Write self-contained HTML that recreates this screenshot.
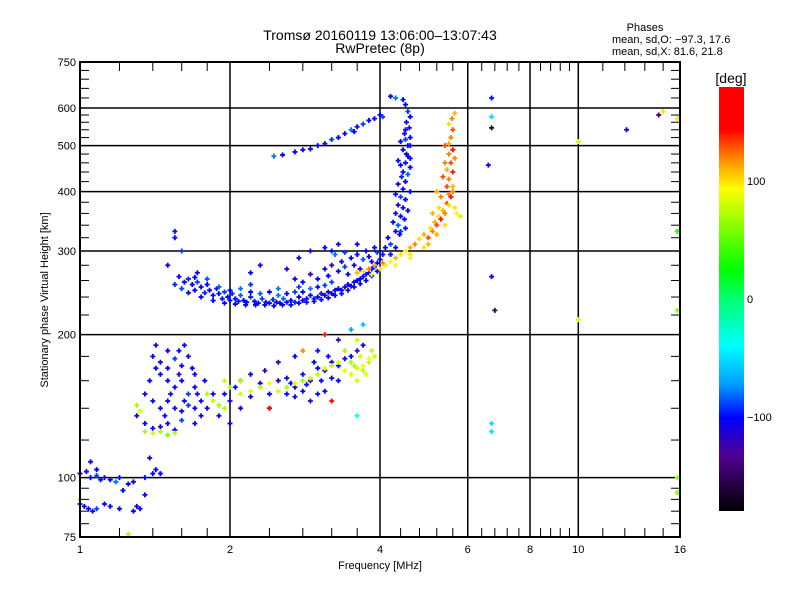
<!DOCTYPE html>
<html><head><meta charset="utf-8"><style>
body{margin:0;background:#fff;}
svg text{font-family:"Liberation Sans",sans-serif;fill:#000;}
</style></head><body>
<svg id="chart" width="800" height="600" xmlns="http://www.w3.org/2000/svg">
<rect width="800" height="600" fill="#fff"/>
<text x="380" y="40" font-size="14" text-anchor="middle">Tromsø 20160119 13:06:00–13:07:43</text>
<text x="380" y="53" font-size="14" text-anchor="middle">RwPretec (8p)</text>
<text x="645" y="31" font-size="11" text-anchor="middle">Phases</text>
<text x="612" y="43" font-size="11">mean, sd,O: −97.3, 17.6</text>
<text x="612" y="55" font-size="11">mean, sd,X:  81.6, 21.8</text>
<g id="grid"></g>
<g id="points"></g>
<g id="axes"></g>
<text x="380" y="569" font-size="11" text-anchor="middle">Frequency [MHz]</text>
<text transform="translate(48,300) rotate(-90)" font-size="11" text-anchor="middle">Stationary phase Virtual Height [km]</text>
<defs><linearGradient id="cb" x1="0" y1="0" x2="0" y2="1">
<stop offset="0" stop-color="#ff0000"/><stop offset="0.1" stop-color="#ff0000"/><stop offset="0.17" stop-color="#ff8a00"/><stop offset="0.24" stop-color="#ffff00"/><stop offset="0.43" stop-color="#00ff00"/><stop offset="0.5" stop-color="#00ff70"/><stop offset="0.61" stop-color="#00ffff"/><stop offset="0.7" stop-color="#00a0ff"/><stop offset="0.78" stop-color="#0000ff"/><stop offset="0.87" stop-color="#500090"/><stop offset="1" stop-color="#000000"/>
</linearGradient></defs>
<rect x="719" y="87" width="25" height="424" fill="url(#cb)"/>
<text x="731" y="83" font-size="14" text-anchor="middle">[deg]</text>
<g id="cbticks"></g>
</svg>
<script>
const NS="http://www.w3.org/2000/svg";
const xTicks=[1,2,4,6,8,10,16];
const xGrid=[2,4,6,8,10];
const yTicks=[75,100,200,300,400,500,600,750];
const yGrid=[100,200,300,400,500,600];
const cbTicks=[100,0,-100];
const oBand=[[1.55,255,-95],[1.58,265,-100],[1.6,250,-90],[1.62,258,-100],[1.65,262,-95],[1.68,255,-105],[1.7,248,-100],[1.72,258,-90],[1.75,252,-100],[1.78,245,-95],[1.8,255,-100],[1.82,248,-110],[1.85,242,-100],[1.88,250,-95],[1.9,244,-100],[1.93,238,-100],[1.95,246,-90],[1.98,240,-100],[2.0,236,-100],[2.02,244,-95],[2.05,238,-100],[2.08,235,-100],[2.1,242,-85],[2.13,236,-100],[2.16,234,-100],[2.2,240,-95],[2.24,235,-100],[2.28,233,-100],[2.32,238,-90],[2.36,234,-100],[2.4,233,-100],[2.44,237,-95],[2.48,234,-100],[2.52,233,-100],[2.56,238,-85],[2.6,234,-100],[2.65,236,-100],[2.7,234,-95],[2.75,240,-100],[2.8,236,-110],[2.85,238,-100],[2.9,242,-100],[2.95,238,-95],[3.0,240,-100],[3.05,244,-110],[3.1,242,-100],[3.15,246,-100],[3.2,244,-120],[3.25,248,-100],[3.3,250,-110],[3.35,248,-100],[3.4,252,-120],[3.45,255,-100],[3.5,253,-110],[3.55,258,-100],[3.6,260,-100],[3.65,262,-110],[3.7,265,-100],[3.75,268,-95],[3.8,270,-100],[3.85,275,-100],[3.9,278,-95],[3.95,283,-100],[4.0,288,-100],[4.05,295,-100],[1.9,252,-85],[2.0,248,-100],[2.1,250,-80],[2.2,246,-100],[2.3,244,-85],[2.4,246,-100],[2.5,242,-80],[2.6,244,-100],[2.7,246,-90],[2.8,246,-100],[2.9,250,-80],[3.0,252,-100],[3.1,254,-90],[1.7,264,-100],[1.8,262,-85],[1.75,240,-100],[1.85,236,-100],[1.95,233,-100],[2.05,232,-100],[2.15,231,-100],[2.25,231,-100],[2.35,231,-100],[2.45,230,-100],[2.55,231,-110],[2.65,231,-100],[2.75,233,-100],[2.85,234,-110],[2.95,235,-100],[3.05,237,-100],[3.15,239,-110],[3.25,242,-100],[3.35,244,-100],[3.45,248,-110],[3.55,252,-100],[3.65,256,-100],[3.75,260,-100],[3.85,266,-100],[3.95,272,-100],[1.65,245,-100],[1.72,270,-100],[2.2,255,-90],[2.5,250,-80],[2.75,252,-90],[3.2,258,-90]];
const oUpperBand=[[2.7,262,-110],[2.8,258,-100],[2.9,268,-120],[3.0,262,-100],[3.1,275,-110],[3.15,266,-100],[3.2,280,-120],[3.3,272,-100],[3.35,285,-110],[3.4,278,-90],[3.5,290,-100],[3.55,280,-110],[3.6,295,-100],[3.7,288,-85],[3.75,300,-100],[3.8,292,-110],[3.9,305,-100],[3.95,298,-90],[2.75,290,-100],[2.9,300,-110],[3.3,310,-100],[3.4,298,-90],[3.1,305,-100],[3.45,268,-100],[3.65,275,-110],[3.85,285,-100],[3.25,295,-80],[3.6,310,-100]];
const oColumn=[[4.1,305,-100],[4.2,310,-90],[4.15,320,-100],[4.3,330,-110],[4.25,345,-100],[4.35,340,-85],[4.3,360,-100],[4.4,355,-100],[4.35,375,-110],[4.45,370,-100],[4.4,390,-90],[4.5,385,-100],[4.45,405,-100],[4.35,415,-110],[4.5,420,-100],[4.45,440,-100],[4.55,435,-85],[4.4,455,-100],[4.5,460,-100],[4.55,475,-110],[4.45,490,-100],[4.55,500,-100],[4.5,515,-90],[4.6,520,-100],[4.5,540,-100],[4.58,545,-110],[4.52,560,-100],[4.6,575,-100],[4.55,590,-90],[4.5,610,-100],[4.45,625,-100],[4.6,500,-100],[4.4,330,-90],[4.2,295,-100],[4.6,470,-100],[4.6,400,-100],[4.3,305,-110],[4.38,325,-100],[4.48,350,-100],[4.42,430,-95],[4.52,480,-100],[4.4,510,-100],[4.5,335,-100],[4.55,365,-100],[4.3,395,-100],[4.6,450,-100],[4.35,465,-100],[4.48,530,-100]];
const oFaint=[[2.45,475,-80],[2.55,478,-100],[2.7,485,-110],[2.8,490,-100],[2.9,492,-110],[3.0,500,-100],[3.1,505,-100],[3.2,515,-90],[3.3,520,-100],[3.4,530,-100],[3.5,540,-80],[3.55,535,-100],[3.6,548,-100],[3.7,555,-90],[3.8,565,-100],[3.9,570,-100],[4.0,580,-100],[4.05,575,-90],[4.3,630,-80],[4.2,635,-100],[1.55,320,-100],[1.55,330,-110],[1.5,280,-100],[1.6,300,-90],[2.3,280,-100],[2.6,275,-110],[3.2,300,-100],[2.2,270,-100]];
const xTrace=[[3.6,270,110],[3.7,272,100],[3.8,275,120],[3.85,268,90],[3.9,280,110],[4.0,275,100],[4.05,283,120],[4.1,280,100],[4.2,285,90],[4.3,290,110],[4.4,295,100],[4.5,300,95],[4.6,305,110],[4.7,310,120],[4.8,318,100],[4.9,325,110],[5.0,320,130],[5.05,335,100],[5.1,330,120],[5.15,345,110],[5.2,340,130],[5.25,355,100],[5.3,350,140],[5.35,365,110],[5.4,360,120],[5.45,378,130],[5.5,375,100],[5.5,395,120],[5.55,390,140],[5.6,410,110],[5.45,410,130],[5.5,425,120],[5.6,440,140],[5.45,445,110],[5.55,460,130],[5.5,480,120],[5.6,490,140],[5.5,505,110],[5.55,520,120],[5.6,540,130],[5.5,555,100],[5.58,570,120],[5.65,585,110],[5.7,360,90],[5.8,355,80],[5.65,370,100],[5.3,390,120],[5.2,400,110],[5.35,430,130],[5.4,460,120],[5.25,370,100],[5.1,360,110],[4.3,280,90],[4.6,295,100],[5.0,310,110],[5.4,340,100],[4.9,305,100],[5.2,325,110],[5.6,400,120],[5.4,500,130],[5.65,470,120],[4.6,290,90]];
const eBlue=[[1.4,180,-100],[1.45,175,-110],[1.5,185,-100],[1.55,178,-90],[1.6,172,-100],[1.65,180,-110],[1.7,165,-100],[1.45,165,-100],[1.5,160,-110],[1.55,155,-100],[1.6,160,-100],[1.65,150,-90],[1.7,155,-100],[1.35,150,-110],[1.4,145,-100],[1.45,140,-100],[1.5,145,-110],[1.55,140,-100],[1.6,138,-100],[1.65,142,-90],[1.7,140,-100],[1.75,145,-100],[1.3,135,-110],[1.35,130,-100],[1.4,127,-100],[1.45,128,-110],[1.5,130,-100],[1.55,126,-100],[1.6,132,-90],[1.7,130,-100],[1.75,135,-110],[1.8,140,-100],[1.85,150,-100],[1.5,170,-100],[1.62,190,-100],[1.42,190,-110],[1.38,160,-100],[1.58,165,-120],[1.68,170,-100],[1.78,160,-100],[1.95,150,-100],[2.0,145,-110],[2.05,155,-100],[2.1,160,-120],[2.2,165,-100],[2.3,158,-110],[2.4,150,-100],[2.5,160,-120],[2.6,162,-100],[2.7,155,-110],[2.8,165,-100],[2.9,160,-120],[3.0,170,-100],[3.1,168,-110],[3.2,175,-120],[3.3,172,-100],[3.4,178,-110],[3.5,180,-100],[3.6,185,-120],[3.7,190,-100],[2.6,150,-100],[2.7,148,-110],[2.8,152,-100],[2.9,145,-120],[3.0,150,-100],[3.1,152,-110],[3.3,160,-100],[2.5,175,-120],[2.7,180,-100],[3.0,185,-110],[3.3,195,-120],[3.5,205,-70],[3.7,210,-60],[2.2,148,-100],[2.1,140,-110],[2.4,140,-100],[1.9,135,-100],[2.0,130,-110],[1.42,170,-100],[1.52,150,-100],[1.62,145,-100],[1.48,135,-100],[1.58,185,-100],[1.72,150,-110],[2.65,158,-100],[2.85,157,-100],[3.05,160,-110],[3.2,162,-100],[2.35,168,-120],[2.95,175,-100],[3.15,180,-100]];
const eGreen=[[1.35,125,70],[1.4,124,80],[1.45,125,70],[1.5,123,60],[1.55,124,75],[1.3,142,70],[1.32,138,80],[1.8,150,70],[1.85,145,80],[1.9,142,70],[1.95,140,75],[2.0,155,70],[2.1,150,80],[2.2,152,85],[2.3,155,70],[2.4,158,90],[2.5,152,80],[2.6,155,70],[2.7,158,85],[2.8,160,70],[2.9,162,80],[3.0,165,75],[3.1,170,85],[3.2,172,70],[3.3,175,80],[3.4,168,90],[3.5,175,70],[3.6,170,80],[3.7,172,90],[3.8,175,75],[3.5,165,85],[3.6,160,80],[3.4,185,70],[3.6,195,80],[3.8,178,90],[3.9,180,75],[3.75,165,85],[2.1,160,70],[1.95,160,80],[3.55,172,70],[3.65,180,80],[3.7,168,75],[3.85,185,70]];
const lowLayer=[[1.0,102,-100],[1.03,103,-110],[1.05,100,-100],[1.08,101,-90],[1.1,99,-100],[1.12,100,-110],[1.15,99,-100],[1.18,98,-80],[1.2,100,-100],[1.25,97,-100],[1.28,98,-110],[1.05,108,-100],[1.08,104,-100],[1.0,88,-100],[1.02,87,-110],[1.04,86,-100],[1.06,85,-100],[1.08,86,-90],[1.15,87,-100],[1.2,86,-100],[1.3,87,-110],[1.32,86,-100],[1.4,102,-100],[1.42,104,-100],[1.35,92,-100],[1.22,94,-100],[1.28,85,-100],[1.25,76,70],[1.38,110,-100],[1.45,102,-100],[1.35,100,-100],[1.0,90,60],[1.12,88,-100]];
const isolated=[[6.7,630,-100],[6.7,575,-50],[6.7,545,-160],[6.6,455,-100],[6.7,265,-100],[6.8,225,-150],[6.7,130,-50],[6.7,125,-50],[10,510,80],[10,215,80],[12.5,540,-110],[14.5,580,-140],[14.8,590,100],[15.8,570,100],[15.8,330,30],[15.8,225,60],[15.8,100,60],[15.8,93,60],[3.6,135,-40],[2.8,185,120],[3.1,200,140],[2.4,140,160],[3.2,145,160]];
const X0=80,X1=680,Y0=62,Y1=537;
function xs(f){return X0+(X1-X0)*Math.log2(f)/4;}
function ys(h){return Y1-(Y1-Y0)*Math.log10(h/75);}
const stops=[[0,255,0,0],[0.1,255,0,0],[0.17,255,138,0],[0.24,255,255,0],[0.43,0,255,0],[0.5,0,255,112],[0.61,0,255,255],[0.7,0,160,255],[0.78,0,0,255],[0.87,80,0,144],[1,0,0,0]];
function col(p){const t=(180-p)/360;for(let i=1;i<stops.length;i++){if(t<=stops[i][0]){const a=stops[i-1],b=stops[i],u=(t-a[0])/(b[0]-a[0]);return `rgb(${Math.round(a[1]+u*(b[1]-a[1]))},${Math.round(a[2]+u*(b[2]-a[2]))},${Math.round(a[3]+u*(b[3]-a[3]))})`;}}return "#000";}
function ln(g,x1,y1,x2,y2,w,c){const l=document.createElementNS(NS,"line");l.setAttribute("x1",x1);l.setAttribute("y1",y1);l.setAttribute("x2",x2);l.setAttribute("y2",y2);l.setAttribute("stroke",c||"#000");l.setAttribute("stroke-width",w);g.appendChild(l);return l;}
function tx(g,x,y,s,anchor,size){const t=document.createElementNS(NS,"text");t.setAttribute("x",x);t.setAttribute("y",y);t.setAttribute("text-anchor",anchor);t.setAttribute("font-size",size||12);t.textContent=s;g.appendChild(t);return t;}
const grid=document.getElementById("grid"),axes=document.getElementById("axes"),pts=document.getElementById("points");
xGrid.forEach(f=>{const l=ln(grid,xs(f),Y0,xs(f),Y1,1.5);

});
yGrid.forEach(h=>{const l=ln(grid,X0,ys(h),X1,ys(h),1.5);

});
const frame=document.createElementNS(NS,"rect");
frame.setAttribute("x",X0);frame.setAttribute("y",Y0);frame.setAttribute("width",X1-X0);frame.setAttribute("height",Y1-Y0);frame.setAttribute("fill","none");frame.setAttribute("stroke","#000");frame.setAttribute("stroke-width","2");


axes.appendChild(frame);
for(let i=0;i<xTicks.length-1;i++){const a=xTicks[i],b=xTicks[i+1];for(let k=1;k<5;k++){const f=a+(b-a)*k/5;ln(axes,xs(f),Y1,xs(f),Y1-9,1);ln(axes,xs(f),Y0,xs(f),Y0+9,1);}}
for(let i=0;i<yTicks.length-1;i++){const a=yTicks[i],b=yTicks[i+1];for(let k=1;k<5;k++){const h=a+(b-a)*k/5;ln(axes,X0,ys(h),X0+9,ys(h),1);ln(axes,X1,ys(h),X1-9,ys(h),1);}}
xTicks.forEach(f=>{const t=tx(axes,xs(f),553,String(f),"middle",11);

});
yTicks.forEach(h=>{const t=tx(axes,X0-4,ys(h)+4,String(h),"end",11);

});
const cbg=document.getElementById("cbticks");
cbTicks.forEach(p=>{const y=87+424*(180-p)/360;const t=tx(cbg,747,y+4,String(p).replace('-','−'),"start",11);

});
[oBand,oUpperBand,oColumn,oFaint,xTrace,eBlue,eGreen,lowLayer,isolated].forEach(arr=>{arr.forEach(d=>{const x=xs(d[0]),y=ys(d[1]),c=col(d[2]);
const p=document.createElementNS(NS,"path");
p.setAttribute("d",`M${x-2.5},${y}H${x+2.5}M${x},${y-2.5}V${y+2.5}`);
p.setAttribute("stroke",c);p.setAttribute("stroke-width","1.8");


pts.appendChild(p);});});
</script>
</body></html>
